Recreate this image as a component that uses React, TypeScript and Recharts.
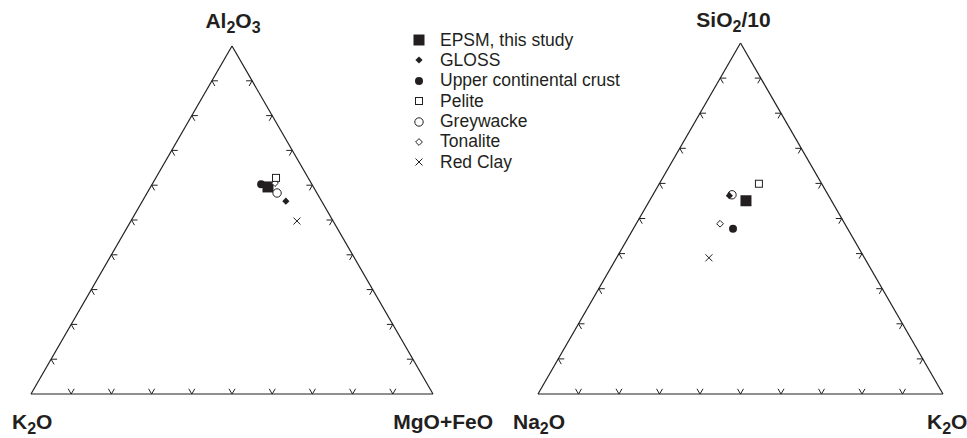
import React from 'react';
import { ScatterChart, Scatter, XAxis, YAxis, ReferenceLine, ReferenceDot, Legend } from 'recharts';

const INK = '#231f20';
const FONT = '"Liberation Sans", Arial, Helvetica, sans-serif';
const SQ = Math.sqrt(3) / 2;

// samples, in legend order
const samples = ['EPSM, this study', 'GLOSS', 'Upper continental crust', 'Pelite', 'Greywacke', 'Tonalite', 'Red Clay'];

// Al2O3 - K2O - (MgO+FeO)
const afmAl2O3 = [59.5, 55.4, 60.3, 62.1, 57.7, 60.6, 49.7];
const afmK2O = [11.3, 8.9, 12.6, 8.0, 9.9, 9.0, 9.0];
const afmMgFe = [29.2, 35.7, 27.1, 29.9, 32.3, 30.4, 41.3];

// SiO2/10 - Na2O - K2O
const snkSiO2 = [55.0, 56.5, 47.0, 59.9, 56.7, 48.5, 38.8];
const snkNa2O = [21.1, 24.5, 28.3, 15.5, 23.7, 30.8, 38.4];
const snkK2O = [23.8, 19.0, 24.6, 24.6, 19.5, 20.7, 22.8];

// tick positions along every edge
const tickFractions = [0.1, 0.2, 0.3, 0.4, 0.5, 0.6, 0.7, 0.8, 0.9];

const markerKinds = ['bigSquare', 'diamondFilled', 'circleFilled', 'squareOpen', 'circleOpen', 'diamondOpen', 'cross'];

// ternary -> cartesian (apex = top component, left/right = base corners)
function toXY(top: number, left: number, right: number) {
  const s = top + left + right;
  const t = top / s;
  const r = right / s;
  return { x: r + t / 2, y: t * SQ };
}

function Marker({ kind, cx, cy }: { kind: string; cx: number; cy: number }) {
  switch (kind) {
    case 'bigSquare':
      return <rect x={cx - 5.5} y={cy - 5.5} width={11} height={11} fill={INK} />;
    case 'diamondFilled':
      return <polygon points={`${cx},${cy - 3.6} ${cx + 3.6},${cy} ${cx},${cy + 3.6} ${cx - 3.6},${cy}`} fill={INK} />;
    case 'circleFilled':
      return <circle cx={cx} cy={cy} r={4} fill={INK} />;
    case 'squareOpen':
      return <rect x={cx - 3.5} y={cy - 3.5} width={7} height={7} fill="#fff" stroke={INK} strokeWidth={1} />;
    case 'circleOpen':
      return <circle cx={cx} cy={cy} r={4.2} fill="#fff" stroke={INK} strokeWidth={1} />;
    case 'diamondOpen':
      return <polygon points={`${cx},${cy - 3.4} ${cx + 3.4},${cy} ${cx},${cy + 3.4} ${cx - 3.4},${cy}`} fill="#fff" stroke={INK} strokeWidth={1} />;
    default:
      return (
        <path d={`M${cx - 3.5},${cy - 3.5}L${cx + 3.5},${cy + 3.5}M${cx - 3.5},${cy + 3.5}L${cx + 3.5},${cy - 3.5}`} stroke={INK} strokeWidth={1} fill="none" />
      );
  }
}

function TickMark(props: any) {
  const { cx, cy, payload } = props;
  const L = 6;
  let d = '';
  if (payload.edge === 'bottom') d = `M${cx + L * 0.5},${cy - L * SQ}L${cx},${cy}L${cx - L * 0.5},${cy - L * SQ}`;
  else if (payload.edge === 'left') d = `M${cx + L},${cy}L${cx},${cy}L${cx + L * 0.5},${cy + L * SQ}`;
  else d = `M${cx - L},${cy}L${cx},${cy}L${cx - L * 0.5},${cy + L * SQ}`;
  return <path d={d} fill="none" stroke={INK} strokeWidth={1} />;
}

const tickData = [
  ...tickFractions.map((f) => ({ x: f, y: 0, edge: 'bottom' })),
  ...tickFractions.map((f) => ({ x: f / 2, y: f * SQ, edge: 'left' })),
  ...tickFractions.map((f) => ({ x: 1 - f / 2, y: f * SQ, edge: 'right' })),
];

type Part = { t: string; sub?: boolean };

function cornerLabel(parts: Part[], dx: number, dy: number, anchor: 'start' | 'middle' | 'end') {
  return (p: any) => {
    const vb = p.viewBox || { x: 0, y: 0 };
    let shifted = false;
    return (
      <text x={vb.x + dx} y={vb.y + dy} textAnchor={anchor} fontFamily={FONT} fontWeight="bold" fontSize={21} fill={INK}>
        {parts.map((part, i) => {
          let shift = 0;
          if (part.sub && !shifted) { shift = 5; shifted = true; }
          else if (!part.sub && shifted) { shift = -5; shifted = false; }
          return (
            <tspan key={i} dy={shift} fontSize={part.sub ? 16 : 21}>
              {part.t}
            </tspan>
          );
        })}
      </text>
    );
  };
}

function LegendBox() {
  return (
    <div style={{ fontFamily: FONT, fontSize: 17.5, color: INK }}>
      {samples.map((name, i) => (
        <div key={name} style={{ display: 'flex', alignItems: 'center', height: 20.4, whiteSpace: 'nowrap' }}>
          <svg width={20} height={20} style={{ marginRight: 11 }}>
            <Marker kind={markerKinds[i]} cx={10} cy={10} />
          </svg>
          <span>{name}</span>
        </div>
      ))}
    </div>
  );
}

type TernaryProps = {
  margin: { top: number; right: number; bottom: number; left: number };
  top: number[];
  left: number[];
  right: number[];
  order: number[];
  labels: { parts: Part[]; at: [number, number]; dx: number; dy: number; anchor: 'start' | 'middle' | 'end' }[];
  legend?: boolean;
};

function Ternary({ margin, top, left, right, order, labels, legend }: TernaryProps) {
  return (
    <div style={{ position: 'absolute', left: 0, top: 0 }}>
      <ScatterChart width={967} height={438} margin={margin}>
        <XAxis type="number" dataKey="x" domain={[0, 1]} allowDataOverflow hide />
        <YAxis type="number" dataKey="y" domain={[0, SQ]} allowDataOverflow hide />
        <ReferenceLine segment={[{ x: 0, y: 0 }, { x: 1, y: 0 }]} stroke={INK} strokeWidth={1.2} ifOverflow="visible" />
        <ReferenceLine segment={[{ x: 0, y: 0 }, { x: 0.5, y: SQ }]} stroke={INK} strokeWidth={1.2} ifOverflow="visible" />
        <ReferenceLine segment={[{ x: 1, y: 0 }, { x: 0.5, y: SQ }]} stroke={INK} strokeWidth={1.2} ifOverflow="visible" />
        <Scatter data={tickData} shape={TickMark} isAnimationActive={false} />
        {order.map((i) => (
          <Scatter
            key={samples[i]}
            name={samples[i]}
            data={[toXY(top[i], left[i], right[i])]}
            shape={(p: any) => <Marker kind={markerKinds[i]} cx={p.cx} cy={p.cy} />}
            isAnimationActive={false}
          />
        ))}
        {labels.map((l, i) => (
          <ReferenceDot
            key={i}
            x={l.at[0]}
            y={l.at[1]}
            r={0}
            fill="none"
            stroke="none"
            ifOverflow="visible"
            label={{ content: cornerLabel(l.parts, l.dx, l.dy, l.anchor) }}
          />
        ))}
        {legend && (
          <Legend
            layout="vertical"
            align="center"
            verticalAlign="middle"
            content={() => <LegendBox />}
            wrapperStyle={{ left: 409, top: 29.8, width: 230 }}
          />
        )}
      </ScatterChart>
    </div>
  );
}

export default function App() {
  return (
    <div style={{ position: 'absolute', left: 0, top: 0, width: 967, height: 438, background: '#fff' }}>
      <Ternary
        margin={{ top: 46, right: 534, bottom: 44, left: 31 }}
        top={afmAl2O3}
        left={afmK2O}
        right={afmMgFe}
        order={[2, 0, 5, 3, 4, 1, 6]}
        legend
        labels={[
          { parts: [{ t: 'Al' }, { t: '2', sub: true }, { t: 'O' }, { t: '3', sub: true }], at: [0.5, SQ], dx: 1, dy: -18, anchor: 'middle' },
          { parts: [{ t: 'K' }, { t: '2', sub: true }, { t: 'O' }], at: [0, 0], dx: -19, dy: 35, anchor: 'start' },
          { parts: [{ t: 'MgO+FeO' }], at: [1, 0], dx: 60, dy: 35, anchor: 'end' },
        ]}
      />
      <Ternary
        margin={{ top: 43, right: 24, bottom: 44, left: 538 }}
        top={snkSiO2}
        left={snkNa2O}
        right={snkK2O}
        order={[4, 1, 0, 3, 5, 2, 6]}
        labels={[
          { parts: [{ t: 'SiO' }, { t: '2', sub: true }, { t: '/10' }], at: [0.5, SQ], dx: -7, dy: -16, anchor: 'middle' },
          { parts: [{ t: 'Na' }, { t: '2', sub: true }, { t: 'O' }], at: [0, 0], dx: -25, dy: 35, anchor: 'start' },
          { parts: [{ t: 'K' }, { t: '2', sub: true }, { t: 'O' }], at: [1, 0], dx: -16, dy: 35, anchor: 'start' },
        ]}
      />
    </div>
  );
}
